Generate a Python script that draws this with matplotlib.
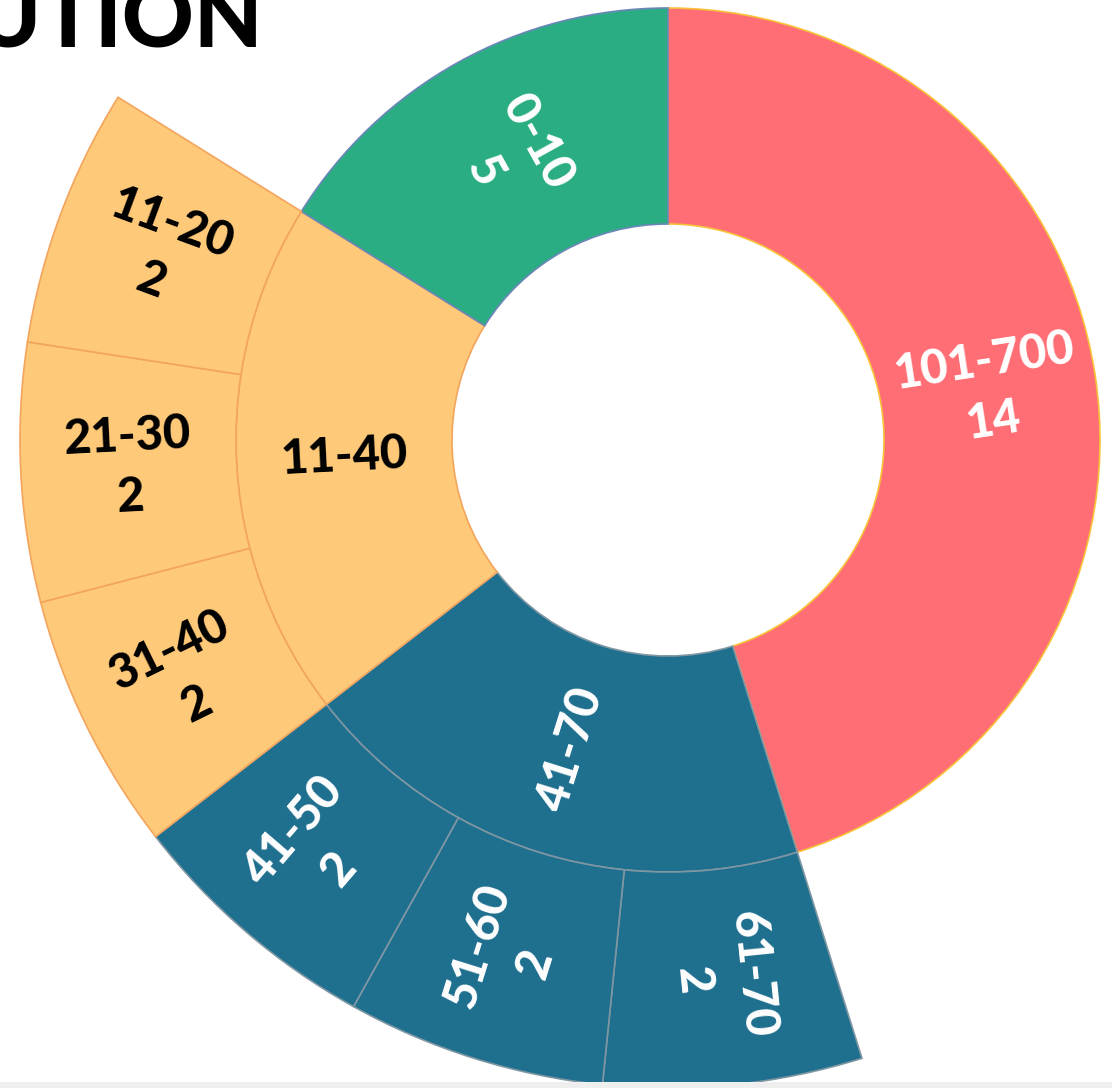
import matplotlib.pyplot as plt
import numpy as np

# inner ring (clockwise from 12 o'clock)
inner_labels = ["101-700", "41-70", "11-40", "0-10"]
inner_values = [14, 6, 6, 5]
inner_show_value = [True, False, False, True]
inner_colors = ["#ff6e75", "#1f6f8f", "#fec978", "#2aad82"]
inner_edges = ["#f7c23a", "#7f97a3", "#f3a55e", "#6b86b8"]

# outer ring: children of 41-70 and 11-40 (None = no child, left empty)
outer_labels = [None, "61-70", "51-60", "41-50", "31-40", "21-30", "11-20", None]
outer_values = [14, 2, 2, 2, 2, 2, 2, 5]
outer_colors = ["none", "#1f6f8f", "#1f6f8f", "#1f6f8f",
                "#fec978", "#fec978", "#fec978", "none"]
outer_edges = ["none", "#7f97a3", "#7f97a3", "#7f97a3",
               "#f3a55e", "#f3a55e", "#f3a55e", "none"]
text_colors = {"#ff6e75": "white", "#1f6f8f": "white",
               "#2aad82": "white", "#fec978": "black"}

FONT = "Lato"


def radial_rotation(theta_mid):
    ang = (theta_mid + 180) % 360 - 180
    if ang > 90:
        ang -= 180
    elif ang <= -90:
        ang += 180
    return ang


def label_ring(ax, wedges, labels, texts, fills, r_mid):
    for w, lab, txt, fill in zip(wedges, labels, texts, fills):
        if lab is None:
            continue
        mid = (w.theta1 + w.theta2) / 2
        x = r_mid * np.cos(np.radians(mid))
        y = r_mid * np.sin(np.radians(mid))
        ax.text(x, y, txt, rotation=radial_rotation(mid),
                rotation_mode="anchor", ha="center", va="center",
                multialignment="center", linespacing=1.45,
                color=text_colors[fill], fontsize=34,
                fontweight="black", family=[FONT, "DejaVu Sans"])


fig = plt.figure(figsize=(11.12, 10.88), dpi=100)
ax = fig.add_axes([0, 0, 1, 1])

inner_w, _ = ax.pie(inner_values, radius=2, startangle=90, counterclock=False,
                    colors=inner_colors,
                    wedgeprops=dict(width=1, linewidth=1.2))
outer_w, _ = ax.pie(outer_values, radius=3, startangle=90, counterclock=False,
                    colors=["white"] * len(outer_values),
                    wedgeprops=dict(width=1, linewidth=1.2))

for w, c, e in zip(inner_w, inner_colors, inner_edges):
    w.set_facecolor(c)
    w.set_edgecolor(e)
for w, c, e in zip(outer_w, outer_colors, outer_edges):
    if c == "none":
        w.set_visible(False)
        continue
    w.set_facecolor(c)
    w.set_edgecolor(e)

inner_texts = [f"{l}\n{v}" if s else l
               for l, v, s in zip(inner_labels, inner_values, inner_show_value)]
outer_texts = [f"{l}\n{v}" if l else None
               for l, v in zip(outer_labels, outer_values)]

label_ring(ax, inner_w, inner_labels, inner_texts, inner_colors, 1.5)
label_ring(ax, outer_w, outer_labels, outer_texts, outer_colors, 2.5)

ax.set_aspect("equal")
ax.set_xlim(-668 / 216, (1112 - 668) / 216)
ax.set_ylim(-(1088 - 440) / 216, 440 / 216)
ax.axis("off")

# page title, mostly cut off by the crop
fig.text(263 / 1112, 1 - 48 / 1088, "DISTRIBUTION", ha="right", va="baseline",
         fontsize=64, fontweight="black", family=[FONT, "DejaVu Sans"])

# light strip along the bottom edge
fig.patches.append(plt.Rectangle((0, 0), 1, 6 / 1088, transform=fig.transFigure,
                                 facecolor="#efefef", edgecolor="none"))

fig.savefig("out.png", dpi=100)
